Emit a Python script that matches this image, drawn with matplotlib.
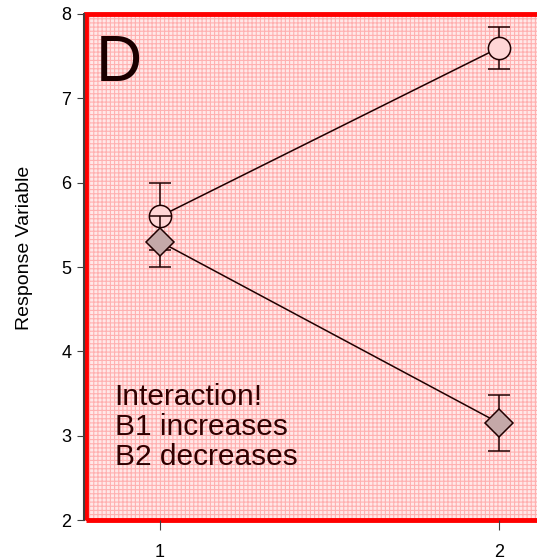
import matplotlib.pyplot as plt
from matplotlib.patches import Rectangle

plt.rcParams['font.family'] = ['Liberation Sans', 'DejaVu Sans']
plt.rcParams['hatch.linewidth'] = 0.8

levels = [1, 2]
b1_mean = [5.6, 7.6]
b1_err = [0.4, 0.25]
b2_mean = [5.3, 3.15]
b2_err = [0.3, 0.33]
yticks = [2, 3, 4, 5, 6, 7, 8]

fig = plt.figure(figsize=(5.37, 5.6), dpi=100)
ax = fig.add_axes([0.156, 0.0714, 0.9154, 0.9036])
ax.set_xlim(0.775, 2.225)
ax.set_ylim(2, 8)

# pink hatched panel with red border
ax.add_patch(Rectangle((0.004, 0), 1.0, 1.0, transform=ax.transAxes,
                       facecolor='#ffe8e8', edgecolor='#ffb0b0', hatch='++++',
                       linewidth=0, zorder=0))
ax.add_patch(Rectangle((0.004, 0), 1.0, 1.0, transform=ax.transAxes,
                       facecolor='none', edgecolor='#ff0000', linewidth=3.5,
                       zorder=1, clip_on=False))

lc = '#200000'
ax.errorbar(levels, b1_mean, yerr=b1_err, color=lc, lw=1.1, capsize=8, capthick=1.1,
            marker='o', ms=16, mfc='#ffd6d6', mec=lc, mew=1.1, zorder=3)
ax.errorbar(levels, b2_mean, yerr=b2_err, color=lc, lw=1.1, capsize=8, capthick=1.1,
            marker='D', ms=14, mfc='#c4a8a8', mec=lc, mew=1.1, zorder=4)

ax.text(0.024, 0.961, 'D', transform=ax.transAxes, fontsize=46, color='#1a0000',
        ha='left', va='top')
ax.text(0.063, 0.097, 'Interaction!\nB1 increases\nB2 decreases', transform=ax.transAxes,
        fontsize=21.5, color='#300000', ha='left', va='bottom', linespacing=1.1)

ax.set_xticks(levels)
ax.set_yticks(yticks)
for s in ['top', 'right', 'bottom']:
    ax.spines[s].set_visible(False)
ax.spines['left'].set_color('#404040')
ax.spines['left'].set_linewidth(1.5)
ax.tick_params(axis='y', length=5, color='#404040', labelsize=13, pad=4)
ax.tick_params(axis='x', length=7, color='#404040', labelsize=13, pad=10)
ax.set_ylabel('Response Variable', fontsize=14)
ax.yaxis.set_label_coords(-0.104, 0.537)

fig.savefig('out.png', dpi=100)
